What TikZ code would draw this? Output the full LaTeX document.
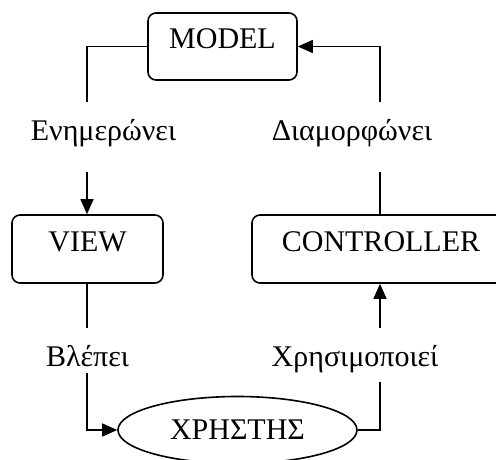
\documentclass[tikz,border=0pt]{standalone}
\usepackage{fontspec}
\setmainfont{Liberation Serif}
\usetikzlibrary{arrows.meta,shapes.geometric}
\begin{document}
\begin{tikzpicture}[x=1pt,y=-1pt,
  line width=1.6pt,
  every node/.style={font=\fontsize{30}{36}\selectfont},
  block/.style={draw,rounded corners=8pt,inner sep=0pt,text height=0.68em,text depth=0.22em},
  actor/.style={draw,ellipse,inner sep=0pt,minimum width=239pt,minimum height=67pt},
  verb/.style={anchor=base,inner sep=0pt},
  tip/.style={-{Triangle[length=15pt,width=13pt]}}]
\useasboundingbox (0,0) rectangle (496,460);
\clip (0,0) rectangle (496,460);

% components
\node[block,minimum width=149pt,minimum height=67pt] (model) at (222.5,46.5) {MODEL};
\node[block,minimum width=151pt,minimum height=68pt] (view) at (87.5,249) {VIEW};
\node[block,minimum width=258pt,minimum height=68pt] (ctrl) at (381,249) {CONTROLLER};
\node[actor] (user) at (237.5,430) {\raisebox{-4pt}{ΧΡΗΣΤΗΣ}};

% labels on the flows
\node[verb] (upd) at (103.5,140) {Ενημερώνει};
\node[verb] (form) at (352,140) {Διαμορφώνει};
\node[verb] (see) at (87.5,366) {Βλέπει};
\node[verb] (use) at (355,366) {Χρησιμοποιεί};

% gap ends around the labels
\coordinate (u1) at (87,102);
\coordinate (u2) at (87,172);
\coordinate (f1) at (380,102);
\coordinate (f2) at (380,172);
\coordinate (s1) at (87,328);
\coordinate (s2) at (87,373);
\coordinate (c1) at (380,328);
\coordinate (c2) at (380,382);

% flows
\draw (model.west) -| (u1);
\draw[tip] (u2) -- (view.north -| u2);
\draw (ctrl.north -| f2) -- (f2);
\draw[tip] (f1) |- (model.east);
\draw (view.south -| s1) -- (s1);
\draw[tip] (s2) |- (user.west);
\draw (user.east) -| (c2);
\draw[tip] (c1) -- (ctrl.south -| c1);
\end{tikzpicture}
\end{document}
